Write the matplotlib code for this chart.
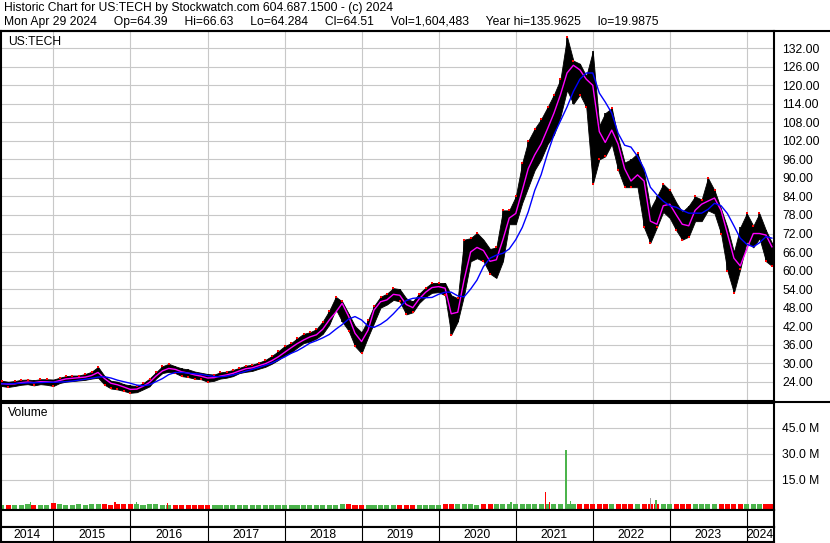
import pandas as pd
import matplotlib
matplotlib.use('Agg')
from matplotlib import pyplot as plt
from matplotlib.lines import Line2D

plt.rcParams['font.family'] = ['Liberation Sans', 'DejaVu Sans']

# monthly points May 2014 .. Apr 2024, plus the last day
dates = list(pd.date_range('2014-05-01', periods=120, freq='MS')) + [pd.Timestamp('2024-04-29')]

hi = [24.3, 24.0, 24.2, 24.6, 24.7, 24.5, 24.8, 24.8,
      24.7, 25.3, 25.8, 26.0, 26.0, 26.5, 27.2, 28.8, 25.8, 24.3, 24.0, 23.2,
      22.8, 22.6, 23.5, 25.0, 27.0, 29.0, 29.8, 29.0, 28.3, 28.0, 27.3, 26.9,
      26.5, 26.3, 27.0, 27.3, 27.8, 28.5, 29.2, 29.5, 30.2, 31.0, 32.3, 33.8,
      35.5, 36.5, 38.0, 39.5, 40.0, 41.0, 43.5, 47.0, 51.5, 50.0, 46.0, 42.0,
      40.0, 44.0, 48.5, 51.5, 52.5, 54.3, 54.0, 51.0, 50.0, 52.5, 54.5, 56.0,
      56.0, 56.0, 52.0, 51.0, 70.0, 70.5, 72.2, 70.0, 67.0, 67.5, 79.5, 79.5,
      84.0, 95.0, 102.0, 106.0, 109.0, 113.0, 117.0, 122.0, 135.7, 128.0, 127.0, 123.0,
      131.0, 107.0, 111.0, 112.6, 103.0, 95.0, 96.0, 98.0, 92.0, 80.0, 84.0, 88.0,
      86.0, 82.0, 79.0, 81.0, 84.0, 83.0, 90.0, 86.0, 80.0, 74.0, 66.0, 74.0,
      78.5, 74.5, 78.5, 73.0, 69.0]

lo = [22.6, 22.3, 22.6, 23.0, 23.2, 22.8, 23.2, 23.0,
      22.6, 23.6, 24.0, 24.2, 24.4, 24.6, 25.0, 25.3, 23.0, 21.8, 21.5, 21.0,
      20.4, 20.6, 21.5, 22.5, 25.0, 26.8, 27.2, 26.8, 25.8, 25.5, 25.0, 24.8,
      24.0, 24.3, 25.0, 25.3, 25.8, 26.8, 27.2, 27.5, 28.2, 28.8, 29.8, 31.0,
      32.5, 33.5, 35.0, 36.5, 37.0, 38.0, 39.5, 42.5, 47.5, 43.5, 40.5, 35.5,
      33.2, 38.5, 43.0, 48.0, 49.0, 50.5, 50.0, 45.8, 46.5, 49.5, 51.5, 52.8,
      53.0, 52.0, 39.2, 43.5, 52.0, 63.0, 64.0, 63.0, 59.0, 57.6, 63.0, 75.0,
      75.0, 82.0, 87.0, 92.6, 96.0, 101.0, 104.0, 110.0, 118.5, 114.0, 117.0, 113.0,
      88.0, 96.0, 97.0, 101.0, 92.6, 87.0, 87.0, 87.0, 74.0, 69.0, 74.0, 79.0,
      77.0, 73.0, 70.0, 71.0, 76.0, 76.0, 79.5, 78.5, 72.0, 60.0, 52.8, 60.5,
      69.5, 67.5, 70.5, 63.0, 61.5]

ma_fast = [23.4, 23.2, 23.3, 23.7, 23.9, 23.7, 24.0, 24.0,
           23.8, 24.4, 24.9, 25.1, 25.3, 25.5, 26.0, 27.0, 25.0, 23.5, 23.0, 22.3,
           21.5, 21.6, 22.5, 23.8, 25.8, 27.5, 28.3, 28.0, 27.2, 26.8, 26.2, 25.8,
           25.2, 25.3, 25.8, 26.2, 26.7, 27.5, 28.2, 28.5, 29.2, 29.8, 30.8, 32.0,
           33.5, 35.0, 36.3, 37.5, 38.5, 39.2, 41.0, 44.0, 46.5, 49.4, 45.1, 39.7,
           37.0, 40.7, 47.2, 49.9, 50.5, 52.3, 52.0, 49.0, 48.0, 50.8, 53.0, 54.5,
           54.8, 54.3, 46.0, 46.5, 57.0, 66.0, 67.5, 66.5, 63.0, 63.5, 70.0, 77.0,
           78.5, 86.0, 93.0, 97.5, 101.0, 106.0, 111.0, 117.0, 124.0, 126.5, 125.0, 122.0,
           120.0, 105.0, 101.5, 105.5, 101.0, 93.0, 89.0, 91.0, 89.0, 76.0, 75.0, 81.0,
           81.5, 78.0, 75.0, 74.5, 79.5, 81.5, 82.5, 83.5, 79.5, 72.0, 64.0, 61.5,
           67.0, 72.0, 72.0, 71.5, 67.7]

ma_slow = [23.3, 23.3, 23.4, 23.5, 23.6, 23.7, 23.7, 23.8,
           23.8, 23.9, 24.0, 24.2, 24.5, 24.8, 25.1, 25.5, 25.6, 25.2, 24.5, 24.0,
           23.5, 22.9, 22.7, 23.0, 24.0, 25.0, 26.3, 27.0, 27.0, 26.8, 26.6, 26.4,
           26.0, 25.7, 25.6, 25.8, 26.2, 26.8, 27.4, 28.0, 28.6, 29.3, 30.0, 31.0,
           32.0, 33.2, 34.0, 35.2, 36.5, 37.3, 38.2, 39.3, 41.0, 42.5, 44.3, 45.1,
           44.0, 42.0, 41.6, 42.6, 44.0, 46.0, 48.2, 50.3, 51.0, 51.2, 51.2, 51.3,
           52.3, 53.0, 53.0, 51.8, 51.5, 54.0, 56.9, 61.3, 64.0, 65.0, 65.6, 67.0,
           70.0, 74.0, 79.0, 86.0, 91.0, 98.0, 104.0, 108.5, 113.0, 118.0, 122.0, 124.0,
           124.0, 117.5, 114.6, 111.0, 104.5, 100.6, 100.0, 97.0, 93.0, 87.0, 84.5, 82.5,
           81.0, 80.5, 79.5, 78.6, 78.6, 78.6, 79.8, 81.8, 81.0, 78.5, 74.5, 70.5,
           68.5, 67.7, 69.0, 71.0, 70.5]

# volume in millions
vol = [0.8, 0.6, 0.7, 0.6, 0.9, 0.8, 0.7, 0.8,
       1.6, 0.9, 0.8, 0.7, 0.9, 0.8, 1.0, 1.2, 0.9, 0.8, 0.9, 1.0,
       1.4, 0.9, 0.8, 1.2, 0.9, 0.8, 0.7, 0.6, 0.7, 0.8, 0.7, 0.8,
       0.7, 0.6, 0.6, 0.7, 0.6, 0.7, 0.6, 0.8, 0.6, 0.7, 0.6, 0.7,
       0.7, 0.6, 0.7, 0.8, 0.6, 0.7, 0.6, 0.7, 0.8, 1.0, 0.9, 0.8,
       0.7, 0.8, 0.6, 0.7, 0.6, 0.7, 0.6, 0.7, 0.6, 0.8, 0.7, 0.8,
       0.8, 0.9, 1.2, 1.0, 1.1, 0.9, 0.8, 0.9, 1.0, 1.1, 0.9, 1.0,
       0.9, 1.0, 0.9, 0.9, 1.0, 1.1, 1.0, 1.2, 1.1, 1.0, 1.0, 1.1,
       1.2, 1.1, 1.0, 1.2, 1.1, 1.2, 1.0, 1.1, 1.2, 1.3, 1.1, 1.0,
       1.0, 1.1, 1.2, 1.0, 1.1, 0.9, 1.0, 1.2, 1.1, 1.3, 1.2, 1.0,
       1.1, 1.2, 1.0, 1.1, 1.0]

spike_dates = pd.to_datetime(['2014-09-15', '2015-10-20', '2016-01-29', '2016-06-24',
                              '2020-12-10', '2021-05-21', '2021-06-10', '2021-08-27',
                              '2021-09-17', '2022-09-30', '2022-10-28'])
spike_vol = [2.3, 2.3, 2.3, 1.7, 2.5, 8.3, 2.5, 32.5, 2.9, 4.8, 3.5]
spike_col = ['#4cb44c', 'red', '#4cb44c', 'red', '#4cb44c', 'red', 'red', '#4cb44c',
             '#4cb44c', '#a0a0a0', '#4cb44c']

price_ticks = list(range(24, 133, 6))
vol_ticks = [15, 30, 45]
years = list(range(2014, 2025))

W, H = 830, 543
FS = 8.7
fig = plt.figure(figsize=(W / 100, H / 100), dpi=100)


def box(x0, y0, x1, y1):
    return [x0 / W, 1 - y1 / H, (x1 - x0) / W, (y1 - y0) / H]


x0, x1 = pd.Timestamp('2014-04-28'), pd.Timestamp('2024-05-09')
year_starts = [pd.Timestamp(f'{y}-01-01') for y in years[1:]]
grid_c = '#c8c8c8'

ax = fig.add_axes(box(1, 31, 774, 401))
axv = fig.add_axes(box(1, 403, 774, 510))
axb = fig.add_axes(box(1, 510, 774, 527))
axy = fig.add_axes(box(1, 527, 774, 542))

for a in (ax, axv, axb, axy):
    a.set_xlim(x0, x1)
    a.set_xticks(year_starts)
    a.set_xticklabels([])
    a.tick_params(axis='x', length=0)
    for s in a.spines.values():
        s.set_linewidth(1.5)

# price panel
ax.fill_between(dates, lo, hi, color='black', lw=0.6, zorder=2)
ax.vlines(dates, lo, hi, color='black', lw=1.2, zorder=2)
up = [True] + [ma_fast[i] >= ma_fast[i - 1] for i in range(1, len(ma_fast))]
red_y = [h if u else l for u, h, l in zip(up, hi, lo)]
ax.scatter(dates, red_y, s=4, marker='s', color='red', lw=0, zorder=3)
ax.plot(dates, ma_fast, color='#ff00ff', lw=1.0, zorder=4)
ax.plot(dates, ma_slow, color='#0000ff', lw=1.0, zorder=4)
ax.set_ylim(17.75, 137.6)
ax.set_yticks(price_ticks)
ax.set_yticklabels([f'{t:.2f}' for t in price_ticks])
ax.yaxis.tick_right()
ax.tick_params(axis='y', length=0, pad=6, labelsize=FS)
ax.grid(color=grid_c, lw=0.8)
ax.set_axisbelow(True)

# volume panel
vol_col = ['#4cb44c' if u else 'red' for u in up]
axv.bar(dates, [v + 2.3 for v in vol], bottom=-2.3, width=24, color=vol_col, lw=0)
axv.bar(spike_dates, [v + 2.3 for v in spike_vol], bottom=-2.3, width=6,
        color=spike_col, lw=0)
axv.set_ylim(-2.3, 59.4)
axv.set_yticks(vol_ticks)
axv.set_yticklabels([f'{t:.1f} M' for t in vol_ticks])
axv.yaxis.tick_right()
axv.tick_params(axis='y', length=0, pad=6, labelsize=FS)
axv.grid(color=grid_c, lw=0.8)
axv.set_axisbelow(True)

# empty band and year row
for a in (axb, axy):
    a.set_yticks([])
    a.set_ylim(0, 1)
    for d in year_starts:
        a.axvline(d, color='black', lw=0.8)

edges = [x0] + year_starts + [x1]
for i, y in enumerate(years):
    mid = edges[i] + (edges[i + 1] - edges[i]) / 2
    axy.text(mid, 0.45, str(y), ha='center', va='center', fontsize=FS)

# outer lines
fig.add_artist(Line2D([0, 1], [1 - 31 / H, 1 - 31 / H], color='black', lw=1.5))
fig.add_artist(Line2D([774 / W, 1], [1 - 401.5 / H, 1 - 401.5 / H], color='black', lw=1.5))

gap = '     '
fig.text(4 / W, 1 - 8 / H, 'Historic Chart for US:TECH by Stockwatch.com 604.687.1500 - (c) 2024',
         va='center', fontsize=FS)
fig.text(4 / W, 1 - 22 / H,
         gap.join(['Mon Apr 29 2024', 'Op=64.39', 'Hi=66.63', 'Lo=64.284', 'Cl=64.51',
                   'Vol=1,604,483', 'Year hi=135.9625', 'lo=19.9875']),
         va='center', fontsize=FS)
fig.text(8 / W, 1 - 42 / H, 'US:TECH', va='center', fontsize=FS)
fig.text(8 / W, 1 - 413 / H, 'Volume', va='center', fontsize=FS)

fig.savefig('out.png', dpi=100)
